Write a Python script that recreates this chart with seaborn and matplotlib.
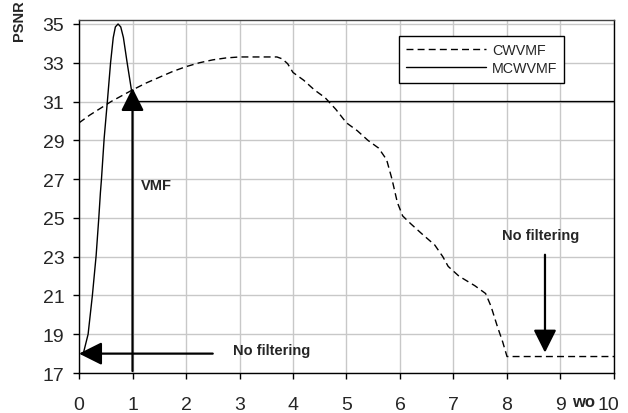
import matplotlib
matplotlib.use("Agg")
import matplotlib.pyplot as plt
import matplotlib.transforms as mtransforms
import seaborn as sns
import pandas as pd

sns.set_style("whitegrid")
plt.rcParams['font.family'] = ['Liberation Sans', 'DejaVu Sans']

# values
cw_x = [0, 0.2, 0.4, 0.6, 0.8, 1.0, 1.25, 1.5, 1.75, 2.0, 2.25, 2.5, 2.75, 3.0, 3.25,
        3.5, 3.7, 3.8, 3.9, 4.0, 4.2, 4.4, 4.6, 4.8, 5.0, 5.2, 5.4, 5.6, 5.75, 5.85,
        5.95, 6.05, 6.2, 6.4, 6.65, 6.8, 6.9, 7.1, 7.4, 7.6, 7.7, 7.82, 7.92, 8.0, 10.0]
cw_y = [29.9, 30.3, 30.65, 31.0, 31.3, 31.6, 31.95, 32.25, 32.55, 32.8, 33.0, 33.15, 33.25, 33.3, 33.3,
        33.3, 33.3, 33.2, 32.95, 32.5, 32.1, 31.6, 31.2, 30.6, 29.9, 29.5, 29.0, 28.6, 28.0, 27.0,
        25.8, 25.1, 24.7, 24.2, 23.6, 23.0, 22.5, 22.0, 21.5, 21.1, 20.45, 19.4, 18.6, 17.85, 17.85]
mcw_x = [0.08, 0.17, 0.25, 0.32, 0.37, 0.40, 0.42, 0.47, 0.53, 0.59, 0.64, 0.68, 0.73,
         0.78, 0.83, 0.90, 0.98, 1.03, 10.0]
mcw_y = [18.0, 19.0, 21.0, 23.05, 25.0, 26.3, 27.0, 29.1, 31.0, 33.0, 34.3, 34.85, 35.0,
         34.85, 34.3, 33.0, 31.6, 31.0, 31.0]

cw = pd.DataFrame({'wo': cw_x, 'PSNR': cw_y})
mcw = pd.DataFrame({'wo': mcw_x, 'PSNR': mcw_y})

fig = plt.figure(figsize=(6.28, 4.14), dpi=100)
ax = fig.add_axes([0.1258, 0.0966, 0.8519, 0.8524])

sns.lineplot(data=cw, x='wo', y='PSNR', ax=ax, color='black', lw=1,
             label='CWVMF', sort=False)
sns.lineplot(data=mcw, x='wo', y='PSNR', ax=ax, color='black', lw=1,
             label='MCWVMF', sort=False)
ax.lines[0].set_dashes((5, 3))

ax.set_xlim(0, 10)
ax.set_ylim(17, 35.2)
ax.set_xticks(range(0, 11))
ax.set_yticks(range(17, 36, 2))
ax.set_xlabel('')
ax.set_ylabel('')
ax.grid(True, color='#c8c8c8', lw=1)
for s in ax.spines.values():
    s.set_color('black')
    s.set_linewidth(1)
ax.spines['top'].set_color('#444444')
ax.tick_params(axis='both', which='major', labelsize=14, direction='out',
               length=4.5, width=1, color='black', left=True, bottom=True)
ax.tick_params(axis='x', pad=12)
ax.tick_params(axis='y', pad=6)

# last x label sits a little left in the reference
lbl = ax.get_xticklabels()[-1]
lbl.set_transform(lbl.get_transform() + mtransforms.ScaledTranslation(-6 / 100, 0, fig.dpi_scale_trans))

ax.legend(loc='upper left', bbox_to_anchor=(0.598, 0.955), fontsize=10.3,
          frameon=True, fancybox=False, edgecolor='black', framealpha=1,
          handlelength=5.6, borderpad=0.5, labelspacing=0.3, handletextpad=0.4,
          borderaxespad=0)

arrow = dict(arrowstyle='-|>,head_length=1.0,head_width=0.5', lw=1.6,
             color='black', shrinkA=0, shrinkB=0, mutation_scale=14)
ax.annotate('', xy=(1.0, 31.7), xytext=(1.0, 17.1), arrowprops=arrow)
ax.annotate('', xy=(0.0, 18.0), xytext=(2.5, 18.0), arrowprops=arrow)
ax.annotate('', xy=(8.71, 18.05), xytext=(8.71, 23.1), arrowprops=arrow)

ax.text(1.44, 26.7, 'VMF', fontsize=10.5, fontweight='bold', ha='center', va='center')
ax.text(3.6, 18.2, 'No filtering', fontsize=10.5, fontweight='bold', ha='center', va='center')
ax.text(8.62, 24.1, 'No filtering', fontsize=10.5, fontweight='bold', ha='center', va='center')

fig.text(19 / 628, 1 - 21 / 414, 'PSNR', rotation=90, fontsize=10.5, fontweight='bold',
         ha='center', va='center')
fig.text(583.5 / 628, 1 - 403 / 414, 'wo', fontsize=12, fontweight='bold',
         ha='center', va='center')

fig.savefig('out.png', dpi=100)
